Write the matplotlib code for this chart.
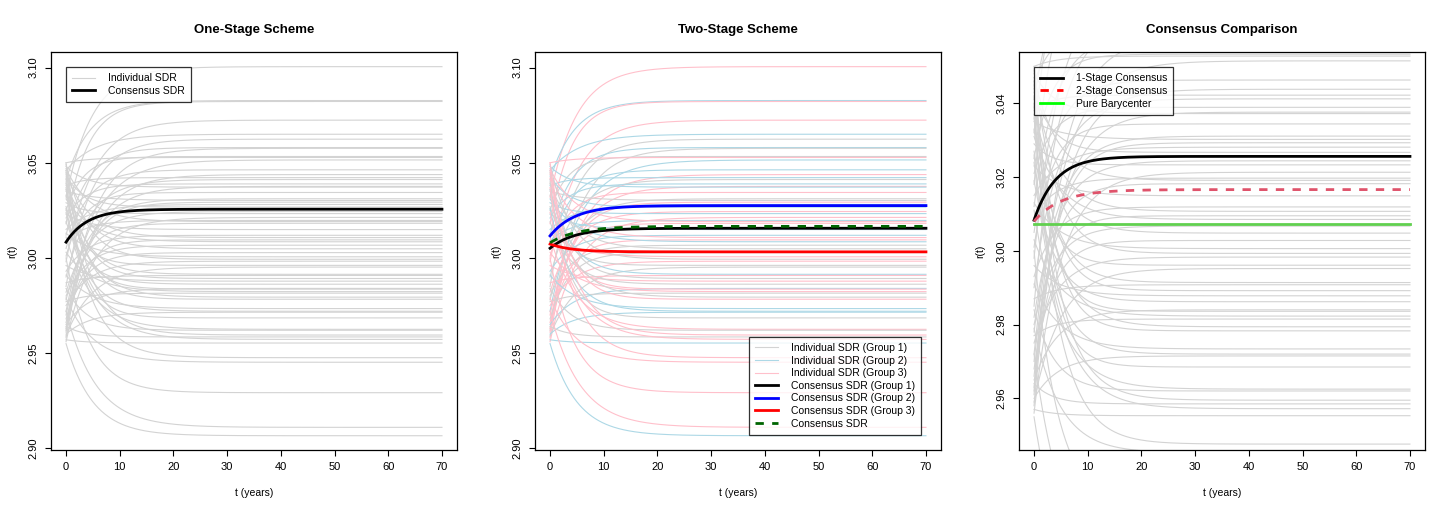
import matplotlib
matplotlib.use('Agg')
import matplotlib.pyplot as plt
import numpy as np

plt.rcParams['font.family'] = ['Liberation Sans', 'DejaVu Sans']

# individual SDR paths: long-run level, value at t=0, reversion speed, group
ends = [3.1005, 3.0827, 3.0822, 3.0724, 3.0650, 3.0624, 3.0580, 3.0576, 3.0533, 3.0528,
        3.0515, 3.0463, 3.0438, 3.0422, 3.0412, 3.0389, 3.0376, 3.0372, 3.0344, 3.0311,
        3.0302, 3.0293, 3.0281, 3.0267, 3.0244, 3.0233, 3.0213, 3.0197, 3.0191, 3.0182,
        3.0149, 3.0119, 3.0107, 3.0095, 3.0085, 3.0067, 3.0048, 3.0028, 3.0006, 2.9993,
        2.9983, 2.9961, 2.9952, 2.9914, 2.9908, 2.9892, 2.9878, 2.9862, 2.9840, 2.9836,
        2.9823, 2.9815, 2.9794, 2.9783, 2.9734, 2.9720, 2.9715, 2.9685, 2.9625, 2.9620,
        2.9595, 2.9585, 2.9572, 2.9553, 2.9476, 2.9452, 2.9292, 2.9110, 2.9066]
starts = [3.032, 3.041, 3.018, 2.998, 3.046, 2.985, 3.012, 2.962, 3.025, 3.050,
          2.972, 3.005, 2.958, 3.038, 2.990, 3.021, 2.966, 3.048, 3.001, 2.978,
          3.035, 2.961, 3.015, 3.043, 2.982, 3.029, 2.956, 3.009, 3.047, 2.970,
          3.023, 2.993, 3.044, 2.963, 3.031, 2.980, 3.039, 2.968, 3.013, 3.049,
          2.975, 3.027, 2.959, 3.036, 2.987, 3.045, 2.996, 3.019, 2.965, 3.042,
          3.003, 2.977, 3.033, 3.050, 2.991, 3.026, 2.960, 3.040, 3.011, 2.984,
          3.046, 2.964, 3.024, 2.957, 3.037, 2.979, 3.000, 2.972, 2.955]
speeds = [0.20, 0.22, 0.25, 0.20, 0.18, 0.22, 0.25, 0.20, 0.30, 0.22,
          0.18, 0.25, 0.20, 0.30, 0.22, 0.28, 0.20, 0.25, 0.30, 0.22,
          0.18, 0.25, 0.20, 0.28, 0.22, 0.30, 0.20, 0.25, 0.22, 0.28,
          0.20, 0.25, 0.22, 0.30, 0.20, 0.25, 0.22, 0.28, 0.20, 0.25,
          0.22, 0.30, 0.20, 0.25, 0.22, 0.28, 0.20, 0.25, 0.22, 0.30,
          0.20, 0.25, 0.22, 0.28, 0.20, 0.25, 0.22, 0.30, 0.20, 0.25,
          0.22, 0.28, 0.20, 0.25, 0.22, 0.20, 0.22, 0.18, 0.20]
groups = [3, 2, 3, 3, 2, 1, 2, 1, 1, 3,
          2, 2, 3, 2, 1, 2, 3, 2, 3, 1,
          1, 3, 2, 2, 3, 2, 3, 2, 3, 3,
          2, 2, 3, 3, 2, 1, 1, 1, 3, 1,
          3, 1, 1, 2, 3, 1, 3, 1, 2, 3,
          3, 1, 1, 3, 2, 2, 2, 1, 3, 1,
          3, 1, 3, 2, 3, 3, 3, 3, 2]

# consensus paths: (start, long-run level, speed)
cons_one = (3.0083, 3.0256, 0.25)
cons_g1 = (3.0051, 3.0156, 0.22)
cons_g2 = (3.0116, 3.0275, 0.22)
cons_g3 = (3.0073, 3.0032, 0.25)
cons_two = (3.0080, 3.0166, 0.20)
barycenter = 3.0074

grp_col = {1: '#D3D3D3', 2: '#ADD8E6', 3: '#FFC0CB'}

t = np.linspace(0, 70, 701)


def path(r0, rinf, k):
    return rinf + (r0 - rinf) * np.exp(-k * t)


def style(ax, title, ylim, yticks, yfmt):
    ax.set_xlim(-2.8, 72.8)
    ax.set_ylim(*ylim)
    ax.set_xticks(range(0, 71, 10))
    ax.set_yticks(yticks)
    ax.set_yticklabels([yfmt % v for v in yticks], rotation=90, va='center')
    ax.tick_params(direction='out', length=4, width=0.8, labelsize=8, pad=5)
    ax.tick_params(axis='y', pad=5)
    for s in ax.spines.values():
        s.set_linewidth(0.9)
    ax.set_title(title, fontsize=9.5, fontweight='bold', pad=14)
    ax.set_xlabel('t (years)', fontsize=7.5, labelpad=11)
    ax.set_ylabel('r(t)', fontsize=7.5, labelpad=8)


fig = plt.figure(figsize=(14.52, 5.15), dpi=100)
W, H = 1452, 515
lefts = [51, 535, 1019]
axs = [fig.add_axes([l / W, (H - 450) / H, 406 / W, 398 / H]) for l in lefts]

leg_kw = dict(fontsize=7.5, frameon=True, fancybox=False, edgecolor='black',
              borderaxespad=0, labelspacing=0.25, handlelength=2.2,
              handletextpad=1.2, borderpad=0.6)

# --- panel 1 ---
ax = axs[0]
for s0, e, k in zip(starts, ends, speeds):
    ax.plot(t, path(s0, e, k), color='#D3D3D3', lw=0.8)
ax.plot(t, path(*cons_one), color='black', lw=2)
style(ax, 'One-Stage Scheme', (2.8991, 3.1082), [2.90, 2.95, 3.00, 3.05, 3.10], '%.2f')
h1 = [plt.Line2D([], [], color='#D3D3D3', lw=0.8), plt.Line2D([], [], color='black', lw=2)]
leg = ax.legend(h1, ['Individual SDR', 'Consensus SDR'], loc='upper left',
                bbox_to_anchor=(0.037, 0.962), **leg_kw)
leg.get_frame().set_linewidth(0.9)

# --- panel 2 ---
ax = axs[1]
for s0, e, k, g in zip(starts, ends, speeds, groups):
    ax.plot(t, path(s0, e, k), color=grp_col[g], lw=0.8)
ax.plot(t, path(*cons_g1), color='black', lw=2)
ax.plot(t, path(*cons_g2), color='#0000FF', lw=2)
ax.plot(t, path(*cons_g3), color='#FF0000', lw=2)
ax.plot(t, path(*cons_two), color='#006400', lw=2, dashes=(3, 3))
style(ax, 'Two-Stage Scheme', (2.8991, 3.1082), [2.90, 2.95, 3.00, 3.05, 3.10], '%.2f')
h2 = [plt.Line2D([], [], color=grp_col[1], lw=0.8),
      plt.Line2D([], [], color=grp_col[2], lw=0.8),
      plt.Line2D([], [], color=grp_col[3], lw=0.8),
      plt.Line2D([], [], color='black', lw=2),
      plt.Line2D([], [], color='#0000FF', lw=2),
      plt.Line2D([], [], color='#FF0000', lw=2),
      plt.Line2D([], [], color='#006400', lw=2, dashes=(3, 3))]
lab2 = ['Individual SDR (Group 1)', 'Individual SDR (Group 2)', 'Individual SDR (Group 3)',
        'Consensus SDR (Group 1)', 'Consensus SDR (Group 2)', 'Consensus SDR (Group 3)',
        'Consensus SDR']
leg = ax.legend(h2, lab2, loc='lower right', bbox_to_anchor=(0.951, 0.038), **leg_kw)
leg.get_frame().set_linewidth(0.9)

# --- panel 3 ---
ax = axs[2]
for s0, e, k in zip(starts, ends, speeds):
    ax.plot(t, path(s0, e, k), color='#D3D3D3', lw=0.8)
ax.plot(t, path(*cons_one), color='black', lw=2)
ax.plot(t, path(*cons_two), color='#DF536B', lw=2, dashes=(3, 3))
ax.plot(t, np.full_like(t, barycenter), color='#61D04F', lw=2)
style(ax, 'Consensus Comparison', (2.9460, 3.0539), [2.96, 2.98, 3.00, 3.02, 3.04], '%.2f')
h3 = [plt.Line2D([], [], color='black', lw=2),
      plt.Line2D([], [], color='#FF0000', lw=2, dashes=(3, 3)),
      plt.Line2D([], [], color='#00FF00', lw=2)]
leg = ax.legend(h3, ['1-Stage Consensus', '2-Stage Consensus', 'Pure Barycenter'],
                loc='upper left', bbox_to_anchor=(0.037, 0.962), **leg_kw)
leg.get_frame().set_linewidth(0.9)

fig.savefig('out.png', dpi=100, facecolor='white')
